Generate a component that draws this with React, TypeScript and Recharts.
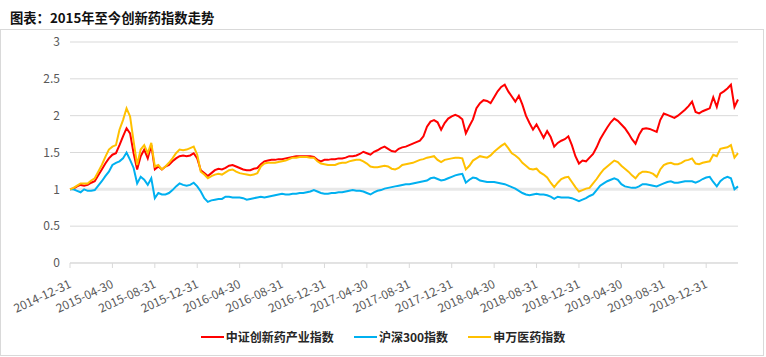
import React from 'react'
import { LineChart, Line, XAxis, YAxis, CartesianGrid, ReferenceLine } from 'recharts'

// one point every ~1/3 month, 2014-12-31 .. 2020-03
const tickLabels = [
  '2014-12-31', '2015-04-30', '2015-08-31', '2015-12-31',
  '2016-04-30', '2016-08-31', '2016-12-31', '2017-04-30',
  '2017-08-31', '2017-12-31', '2018-04-30', '2018-08-31',
  '2018-12-31', '2019-04-30', '2019-08-31', '2019-12-31',
]

const csiInnovDrug = [
  1.00, 1.01, 1.04, 1.06, 1.05, 1.06, 1.09, 1.11, 1.19, 1.27, 1.35, 1.42,
  1.47, 1.49, 1.60, 1.72, 1.83, 1.76, 1.49, 1.27, 1.45, 1.54, 1.42, 1.60,
  1.27, 1.31, 1.27, 1.31, 1.33, 1.38, 1.42, 1.45, 1.46, 1.45, 1.46, 1.49,
  1.42, 1.26, 1.22, 1.18, 1.22, 1.26, 1.28, 1.27, 1.29, 1.32, 1.33, 1.31,
  1.29, 1.27, 1.26, 1.26, 1.28, 1.29, 1.34, 1.38, 1.39, 1.40, 1.40, 1.41,
  1.41, 1.42, 1.43, 1.44, 1.45, 1.45, 1.45, 1.45, 1.45, 1.44, 1.40, 1.38,
  1.40, 1.40, 1.41, 1.41, 1.42, 1.42, 1.43, 1.45, 1.45, 1.46, 1.48, 1.51,
  1.49, 1.47, 1.51, 1.53, 1.56, 1.58, 1.55, 1.52, 1.51, 1.55, 1.57, 1.58,
  1.60, 1.62, 1.64, 1.66, 1.72, 1.85, 1.92, 1.94, 1.91, 1.81, 1.90, 1.96,
  1.99, 2.01, 1.99, 1.95, 1.76, 1.86, 1.95, 2.10, 2.17, 2.21, 2.20, 2.17,
  2.25, 2.33, 2.39, 2.42, 2.33, 2.26, 2.19, 2.27, 2.15, 2.00, 1.90, 1.81,
  1.88, 1.79, 1.70, 1.79, 1.71, 1.58, 1.63, 1.66, 1.68, 1.72, 1.60, 1.45,
  1.35, 1.39, 1.38, 1.43, 1.48, 1.57, 1.68, 1.76, 1.84, 1.91, 1.96, 1.93,
  1.88, 1.83, 1.76, 1.68, 1.62, 1.74, 1.82, 1.83, 1.82, 1.80, 1.78, 1.94,
  2.03, 2.01, 1.99, 1.97, 2.00, 2.04, 2.08, 2.13, 2.19, 2.05, 2.03, 2.06,
  2.08, 2.10, 2.25, 2.12, 2.30, 2.33, 2.37, 2.42, 2.12, 2.22,
]

const hs300 = [
  1.00, 1.00, 0.98, 0.96, 1.00, 0.98, 0.98, 0.99, 1.05, 1.11, 1.18, 1.24,
  1.33, 1.36, 1.38, 1.42, 1.50, 1.40, 1.29, 1.08, 1.17, 1.13, 1.06, 1.15,
  0.88, 0.95, 0.93, 0.93, 0.95, 0.99, 1.04, 1.08, 1.06, 1.05, 1.06, 1.09,
  1.04, 0.97, 0.88, 0.83, 0.85, 0.86, 0.87, 0.87, 0.90, 0.90, 0.89, 0.89,
  0.89, 0.88, 0.86, 0.87, 0.88, 0.89, 0.90, 0.89, 0.90, 0.91, 0.92, 0.93,
  0.94, 0.93, 0.93, 0.94, 0.94, 0.95, 0.95, 0.96, 0.97, 0.99, 0.97, 0.95,
  0.94, 0.94, 0.95, 0.95, 0.96, 0.96, 0.97, 0.98, 0.99, 0.98, 0.98, 0.97,
  0.95, 0.93, 0.96, 0.98, 0.99, 1.01, 1.02, 1.03, 1.04, 1.05, 1.06, 1.07,
  1.07, 1.08, 1.09, 1.10, 1.11, 1.12, 1.15, 1.16, 1.14, 1.12, 1.13, 1.15,
  1.17, 1.19, 1.20, 1.21, 1.09, 1.13, 1.16, 1.15, 1.12, 1.11, 1.10, 1.10,
  1.10, 1.09, 1.08, 1.07, 1.05, 1.03, 1.01, 0.98, 0.95, 0.93, 0.92, 0.93,
  0.94, 0.93, 0.93, 0.92, 0.90, 0.87, 0.90, 0.89, 0.89, 0.89, 0.88, 0.86,
  0.84, 0.86, 0.88, 0.91, 0.93, 0.99, 1.05, 1.08, 1.11, 1.13, 1.15, 1.13,
  1.07, 1.04, 1.03, 1.02, 1.02, 1.04, 1.07, 1.07, 1.06, 1.05, 1.04, 1.06,
  1.08, 1.10, 1.11, 1.09, 1.09, 1.10, 1.11, 1.11, 1.11, 1.09, 1.11, 1.14,
  1.16, 1.17, 1.10, 1.04, 1.11, 1.15, 1.17, 1.15, 1.00, 1.04,
]

const swPharma = [
  1.00, 1.02, 1.05, 1.08, 1.08, 1.08, 1.12, 1.15, 1.24, 1.33, 1.44, 1.54,
  1.58, 1.60, 1.81, 1.94, 2.10, 1.99, 1.65, 1.33, 1.54, 1.60, 1.49, 1.63,
  1.31, 1.33, 1.27, 1.31, 1.36, 1.42, 1.49, 1.54, 1.53, 1.54, 1.56, 1.58,
  1.47, 1.24, 1.20, 1.15, 1.18, 1.20, 1.21, 1.20, 1.23, 1.26, 1.27, 1.24,
  1.22, 1.21, 1.20, 1.19, 1.20, 1.22, 1.31, 1.35, 1.36, 1.36, 1.36, 1.37,
  1.38, 1.39, 1.41, 1.43, 1.43, 1.44, 1.44, 1.44, 1.43, 1.43, 1.38, 1.35,
  1.34, 1.33, 1.33, 1.33, 1.35, 1.36, 1.36, 1.38, 1.39, 1.40, 1.40, 1.38,
  1.35, 1.31, 1.30, 1.30, 1.31, 1.32, 1.31, 1.28, 1.27, 1.29, 1.33, 1.34,
  1.35, 1.36, 1.38, 1.40, 1.41, 1.43, 1.44, 1.45, 1.40, 1.37, 1.40, 1.41,
  1.42, 1.43, 1.43, 1.42, 1.27, 1.32, 1.39, 1.42, 1.45, 1.44, 1.43, 1.46,
  1.51, 1.55, 1.59, 1.62, 1.56, 1.49, 1.46, 1.42, 1.36, 1.32, 1.28, 1.27,
  1.28, 1.23, 1.20, 1.16, 1.09, 1.03, 1.09, 1.14, 1.16, 1.17, 1.10, 1.03,
  0.97, 0.99, 1.01, 1.02, 1.08, 1.14, 1.21, 1.27, 1.31, 1.35, 1.39, 1.37,
  1.32, 1.28, 1.24, 1.19, 1.15, 1.21, 1.24, 1.24, 1.23, 1.21, 1.17, 1.27,
  1.33, 1.35, 1.36, 1.34, 1.34, 1.36, 1.39, 1.40, 1.42, 1.35, 1.34, 1.36,
  1.37, 1.38, 1.47, 1.45, 1.55, 1.56, 1.57, 1.60, 1.43, 1.49,
]

const yTicks = [0, 0.5, 1, 1.5, 2, 2.5, 3]
const pointsPerTick = 12

const series = [
  { key: 'csi', name: '中证创新药产业指数', color: '#FF0000' },
  { key: 'hs', name: '沪深300指数', color: '#00B0F0' },
  { key: 'sw', name: '申万医药指数', color: '#FFC000' },
]

const data = csiInnovDrug.map((v, i) => ({
  i,
  csi: v,
  hs: hs300[i],
  sw: swPharma[i],
}))

const xTicks = tickLabels.map((_, k) => k * pointsPerTick)

const FONT = '"Microsoft YaHei", "Noto Sans CJK SC", "Noto Sans", sans-serif'

function DateTick({ x, y, payload }: any) {
  const label = tickLabels[Math.round(payload.value / pointsPerTick)]
  const ax = x + 2
  const ay = y + 17
  return (
    <text
      x={ax}
      y={ay}
      textAnchor="end"
      fontSize={12}
      fill="#595959"
      fontFamily={FONT}
      transform={`rotate(-25 ${ax} ${ay})`}
    >
      {label}
    </text>
  )
}

export default function App() {
  return (
    <div style={{ position: 'absolute', left: 0, top: 0, width: 766, height: 357, background: '#fff', fontFamily: FONT }}>
      <div style={{ position: 'absolute', left: 10, top: 8, fontSize: 13.3, fontWeight: 'bold', lineHeight: '20px', color: '#111' }}>
        图表：2015年至今创新药指数走势
      </div>
      <div style={{ position: 'absolute', left: 0, top: 29, width: 762, height: 325, border: '1px solid #d9d9d9', boxSizing: 'content-box' }} />
      <div style={{ position: 'absolute', left: 0, top: 0 }}>
        <LineChart width={766} height={357} data={data} margin={{ top: 42, right: 28, bottom: 34, left: 10 }}>
          <CartesianGrid vertical={false} stroke="#d9d9d9" />
          <ReferenceLine y={1} stroke="#e8e8e8" strokeWidth={3} />
          <XAxis
            dataKey="i"
            type="number"
            domain={[0, csiInnovDrug.length - 1]}
            ticks={xTicks}
            interval={0}
            height={60}
            tick={<DateTick />}
            tickSize={5}
            stroke="#d9d9d9"
          />
          <YAxis
            domain={[0, 3]}
            ticks={yTicks}
            width={60}
            axisLine={false}
            tickLine={false}
            tickMargin={4}
            tick={{ fontSize: 12, fill: '#595959', fontFamily: FONT }}
          />
          {series.map((s) => (
            <Line
              key={s.key}
              type="linear"
              dataKey={s.key}
              name={s.name}
              stroke={s.color}
              strokeWidth={2}
              dot={false}
              isAnimationActive={false}
            />
          ))}
        </LineChart>
      </div>
      <div
        style={{
          position: 'absolute',
          left: 0,
          top: 328,
          width: 766,
          display: 'flex',
          justifyContent: 'center',
          gap: 20,
          fontSize: 12,
          fontWeight: 'bold',
          lineHeight: '18px',
          color: '#262626',
        }}
      >
        {series.map((s) => (
          <div key={s.key} style={{ display: 'flex', alignItems: 'center' }}>
            <span style={{ display: 'inline-block', width: 23, height: 2, background: s.color, marginRight: 2 }} />
            <span>{s.name}</span>
          </div>
        ))}
      </div>
    </div>
  )
}
